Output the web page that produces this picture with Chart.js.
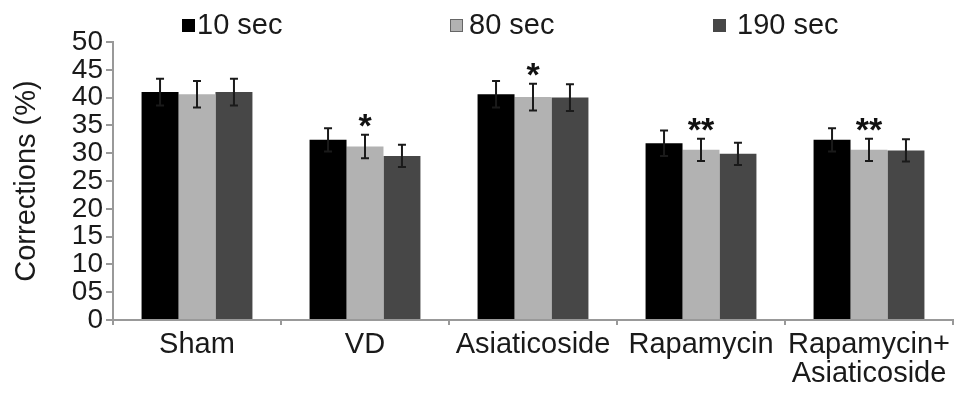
<!DOCTYPE html>
<html>
<head>
<meta charset="utf-8">
<script src="https://cdn.jsdelivr.net/npm/chart.js@4"></script>
<style>
  html, body { margin: 0; padding: 0; background: #fff; }
  #wrap { width: 969px; height: 396px; }
</style>
</head>
<body>
<div id="wrap"><canvas id="myChart"></canvas></div>
<script>
const groups = ['Sham', 'VD', 'Asiaticoside', 'Rapamycin', ['Rapamycin+', 'Asiaticoside']];
const seriesNames = ['10 sec', '80 sec', '190 sec'];

const sec10 = [41.0, 32.4, 40.6, 31.8, 32.4];
const sec80 = [40.6, 31.2, 40.1, 30.6, 30.6];
const sec190 = [41.0, 29.5, 40.0, 29.9, 30.5];

const err10 = [2.4, 2.1, 2.4, 2.3, 2.1];
const err80 = [2.4, 2.1, 2.4, 2.0, 2.0];
const err190 = [2.4, 2.0, 2.4, 2.0, 2.0];

// significance marks sit above the 80 sec bars
const marks80 = ['', '*', '*', '**', '**'];

const yTickLabels = ['0', '05', '10', '15', '20', '25', '30', '35', '40', '45', '50'];

const FONT = '"Liberation Sans", Arial, Helvetica, sans-serif';
const colors = ['#000000', '#b2b2b2', '#474747'];

const errorBars = {
    id: 'errorBars',
    afterDatasetsDraw(chart) {
        const ctx = chart.ctx;
        const y = chart.scales.y;
        const allErr = [err10, err80, err190];
        ctx.save();
        ctx.strokeStyle = '#1a1a1a';
        ctx.lineWidth = 2;
        chart.data.datasets.forEach((ds, i) => {
            const meta = chart.getDatasetMeta(i);
            meta.data.forEach((bar, j) => {
                const v = ds.data[j];
                const e = allErr[i][j];
                const top = y.getPixelForValue(v + e);
                const bot = y.getPixelForValue(v - e);
                ctx.beginPath();
                ctx.moveTo(bar.x, top);
                ctx.lineTo(bar.x, bot);
                ctx.moveTo(bar.x - 4, top);
                ctx.lineTo(bar.x + 4, top);
                ctx.moveTo(bar.x - 4, bot);
                ctx.lineTo(bar.x + 4, bot);
                ctx.stroke();
            });
        });
        // stars
        const meta80 = chart.getDatasetMeta(1);
        ctx.fillStyle = '#111';
        ctx.font = 'bold 34px ' + FONT;
        ctx.textAlign = 'center';
        ctx.textBaseline = 'alphabetic';
        marks80.forEach((m, j) => {
            if (!m) return;
            const bar = meta80.data[j];
            const top = y.getPixelForValue(sec80[j] + err80[j]);
            ctx.fillText(m, bar.x, top - 17 + 34 * 0.57);
        });
        ctx.restore();
    }
};

const topLegend = {
    id: 'topLegend',
    afterDraw(chart) {
        const ctx = chart.ctx;
        const boxX = [182, 450, 713];
        const textX = [197, 469, 737];
        ctx.save();
        ctx.font = '29px ' + FONT;
        ctx.textBaseline = 'alphabetic';
        ctx.textAlign = 'left';
        chart.data.datasets.forEach((ds, i) => {
            ctx.fillStyle = ds.backgroundColor;
            ctx.fillRect(boxX[i], 19, 13, 13);
            if (i === 1) {
                ctx.strokeStyle = '#666';
                ctx.lineWidth = 1;
                ctx.strokeRect(boxX[i] + 0.5, 19.5, 12, 12);
            }
            ctx.fillStyle = '#1a1a1a';
            ctx.fillText(ds.label, textX[i], 34);
        });
        ctx.restore();
    }
};

new Chart(document.getElementById('myChart'), {
    type: 'bar',
    data: {
        labels: groups,
        datasets: [
            { label: seriesNames[0], data: sec10, backgroundColor: colors[0] },
            { label: seriesNames[1], data: sec80, backgroundColor: colors[1] },
            { label: seriesNames[2], data: sec190, backgroundColor: colors[2] },
        ]
    },
    options: {
        responsive: true,
        maintainAspectRatio: false,
        animation: false,
        layout: { padding: { top: 42, right: 16, left: 0, bottom: 0 } },
        datasets: {
            bar: { categoryPercentage: 0.66, barPercentage: 1.0 }
        },
        plugins: {
            legend: { display: false },
            tooltip: { enabled: false }
        },
        scales: {
            x: {
                grid: { drawOnChartArea: false, offset: true, tickLength: 5, color: '#999', lineWidth: 2 },
                border: { color: '#999', width: 2 },
                ticks: {
                    color: '#1a1a1a',
                    font: { family: FONT, size: 29, lineHeight: 1.0 },
                    maxRotation: 0,
                    autoSkip: false,
                    padding: 5
                },
                afterFit(scale) { scale.height = 76; }
            },
            y: {
                min: 0,
                max: 50,
                grid: { drawOnChartArea: false, tickLength: 7, color: '#999', lineWidth: 2 },
                border: { color: '#999', width: 2 },
                ticks: {
                    stepSize: 5,
                    autoSkip: false,
                    color: '#1a1a1a',
                    font: { family: FONT, size: 28, lineHeight: 1.0 },
                    padding: 3,
                    callback: (v, i) => yTickLabels[i]
                },
                title: {
                    display: true,
                    text: 'Corrections (%)',
                    color: '#1a1a1a',
                    font: { family: FONT, size: 29 },
                    padding: { top: 10, bottom: 0 }
                },
                afterFit(scale) { scale.width = 113; }
            }
        }
    },
    plugins: [errorBars, topLegend]
});
</script>
</body>
</html>
